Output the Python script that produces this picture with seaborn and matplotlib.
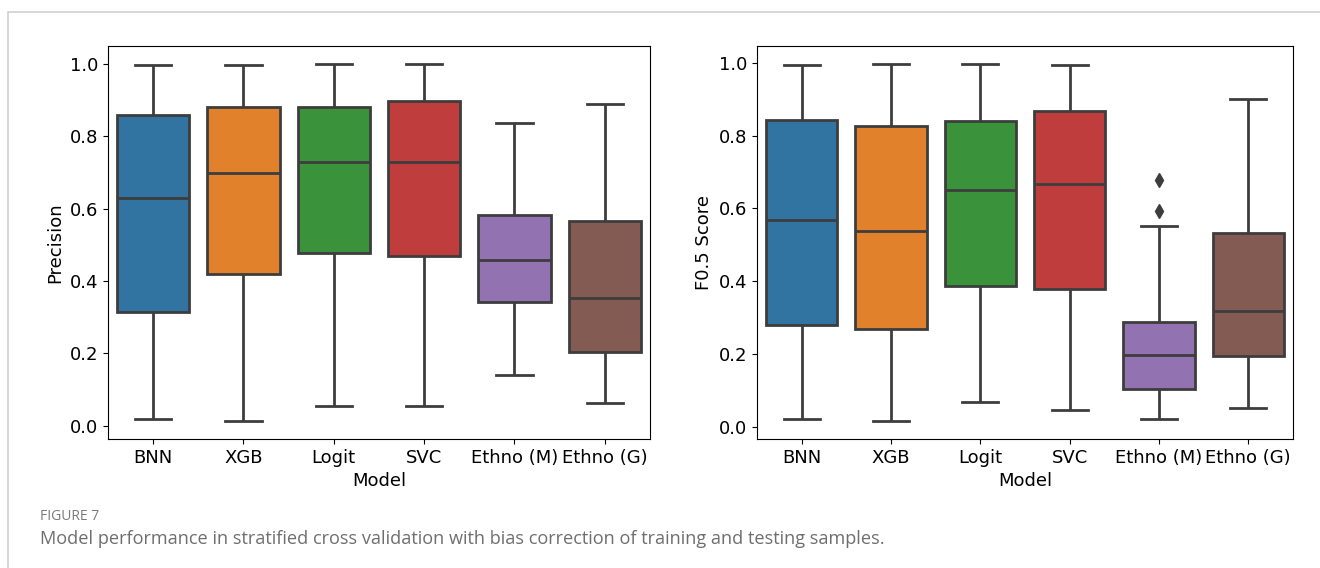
import matplotlib
matplotlib.use("Agg")
import matplotlib.pyplot as plt
import pandas as pd
import seaborn as sns
from matplotlib.patches import Rectangle

models = ["BNN", "XGB", "Logit", "SVC", "Ethno (M)", "Ethno (G)"]

# box summaries: whisker low, q1, median, q3, whisker high
prec_low = [0.019, 0.013, 0.055, 0.055, 0.140, 0.064]
prec_q1 = [0.314, 0.420, 0.478, 0.470, 0.343, 0.204]
prec_med = [0.630, 0.698, 0.730, 0.730, 0.457, 0.353]
prec_q3 = [0.860, 0.880, 0.880, 0.897, 0.582, 0.565]
prec_high = [0.997, 0.998, 1.000, 1.000, 0.838, 0.890]
prec_out = [[], [], [], [], [], []]

f05_low = [0.022, 0.016, 0.068, 0.046, 0.022, 0.051]
f05_q1 = [0.279, 0.270, 0.387, 0.380, 0.103, 0.195]
f05_med = [0.569, 0.537, 0.650, 0.666, 0.197, 0.319]
f05_q3 = [0.842, 0.826, 0.840, 0.868, 0.287, 0.532]
f05_high = [0.994, 0.996, 0.997, 0.993, 0.553, 0.901]
f05_out = [[], [], [], [], [0.593, 0.677], []]


def to_long(low, q1, med, q3, high, outliers, col):
    # 13 values per model so that numpy's quartiles land exactly on q1/med/q3
    rows = []
    for i, m in enumerate(models):
        vals = [low[i], q1[i], q1[i], q1[i], med[i], med[i], med[i],
                q3[i], q3[i], q3[i], high[i]]
        extra = list(outliers[i])
        vals += extra + [high[i]] * (2 - len(extra))
        rows += [(m, v) for v in vals]
    return pd.DataFrame(rows, columns=["Model", col])


df_prec = to_long(prec_low, prec_q1, prec_med, prec_q3, prec_high, prec_out, "Precision")
df_f05 = to_long(f05_low, f05_q1, f05_med, f05_q3, f05_high, f05_out, "F0.5 Score")

plt.rcParams["font.family"] = ["DejaVu Sans"]
fig = plt.figure(figsize=(13.2, 5.68), dpi=100)
ax1 = fig.add_axes([0.0818, 0.2271, 0.4106, 0.6919])
ax2 = fig.add_axes([0.5735, 0.2271, 0.4060, 0.6919])

flier = dict(marker="d", markerfacecolor="#3d3d3d", markeredgecolor="#3d3d3d", markersize=7)
for ax, df, col in [(ax1, df_prec, "Precision"), (ax2, df_f05, "F0.5 Score")]:
    sns.boxplot(data=df, x="Model", y=col, hue="Model", palette="tab10",
                saturation=0.75, width=0.8, linecolor="#3d3d3d", linewidth=2,
                flierprops=flier, legend=False, ax=ax)
    ax.set_xlabel("Model", fontsize=13)
    ax.set_ylabel(col, fontsize=13)
    ax.tick_params(labelsize=13)
    ax.set_yticks([0.0, 0.2, 0.4, 0.6, 0.8, 1.0])

# page frame and caption
fig.patches.append(Rectangle((8 / 1320, -0.1), 1.2, 1 - 12 / 568 + 0.1,
                             transform=fig.transFigure, fill=False,
                             edgecolor="#d0d0d0", linewidth=1.2))
fig.text(40 / 1320, 1 - 516 / 568, "FIGURE 7", fontsize=10, color="#7a7a7a",
         family=["Open Sans", "DejaVu Sans"], va="center")
fig.text(40 / 1320, 1 - 539 / 568,
         "Model performance in stratified cross validation with bias correction of training and testing samples.",
         fontsize=13.1, color="#6e6e6e", family=["Open Sans", "DejaVu Sans"], va="center")

fig.savefig("out.png", dpi=100)
